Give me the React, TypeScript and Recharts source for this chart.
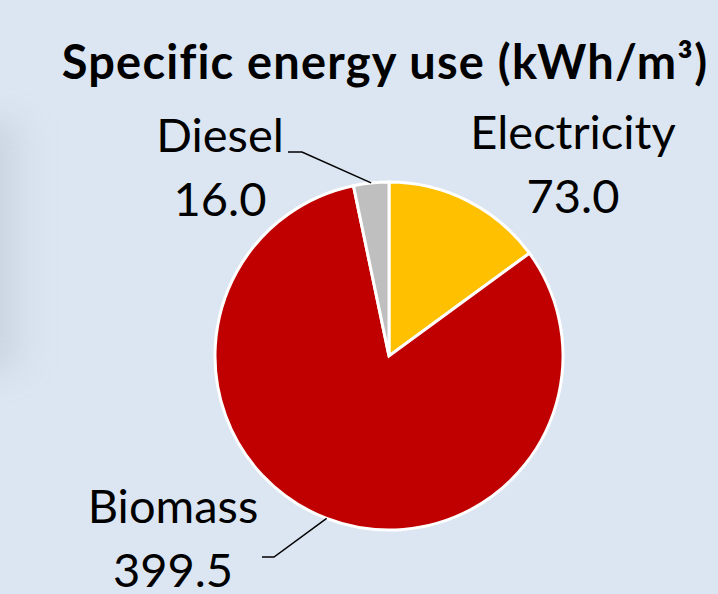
import React from 'react';
import { PieChart, Pie, Cell } from 'recharts';

const categories = ['Electricity', 'Biomass', 'Diesel'];
const values = [73.0, 399.5, 16.0];
const colors = ['#FFC000', '#C00000', '#BFBFBF'];
const title = 'Specific energy use (kWh/m³)';

const data = categories.map((name, i) => ({ name, value: values[i] }));

// label placement relative to pie centre (layout, not data)
const labelLayout: Record<string, { dx: number; dy: number; leader?: { ex: number; ey: number; hx: number; hy: number } }> = {
  Electricity: { dx: 184, dy: -207 },
  Diesel: { dx: -169, dy: -204, leader: { ex: -87, ey: -204, hx: -101, hy: -204 } },
  Biomass: { dx: -216, dy: 167, leader: { ex: -115, ey: 201, hx: -127, hy: 201 } },
};

const FONT = 'Lato, "Open Sans", sans-serif';
const RAD = Math.PI / 180;

const renderLabel = (props: any) => {
  const { cx, cy, midAngle, outerRadius, name, value } = props;
  const lay = labelLayout[name];
  if (!lay) return null;
  const px = cx + outerRadius * Math.cos(-midAngle * RAD);
  const py = cy + outerRadius * Math.sin(-midAngle * RAD);
  return (
    <g>
      {lay.leader && (
        <polyline
          points={`${px},${py} ${cx + lay.leader.ex},${cy + lay.leader.ey} ${cx + lay.leader.hx},${cy + lay.leader.hy}`}
          fill="none"
          stroke="#000"
          strokeWidth={1.5}
        />
      )}
      <text x={cx + lay.dx} y={cy + lay.dy} textAnchor="middle" fontFamily={FONT} fontSize={47} fill="#000">
        {name}
      </text>
      <text x={cx + lay.dx} y={cy + lay.dy + 64} textAnchor="middle" fontFamily={FONT} fontSize={47} fill="#000">
        {Number(value).toFixed(1)}
      </text>
    </g>
  );
};

export default function App() {
  return (
    <div
      style={{
        position: 'fixed',
        left: 0,
        top: 0,
        width: 718,
        height: 594,
        background: '#dce6f2',
        overflow: 'hidden',
      }}
    >
      <div
        style={{
          position: 'absolute',
          left: -25,
          top: 120,
          width: 60,
          height: 250,
          background: 'linear-gradient(to right, rgba(140,150,170,0.35), rgba(140,150,170,0))',
          filter: 'blur(16px)',
        }}
      />
      <div
        style={{
          position: 'absolute',
          left: 0,
          top: 33,
          width: 770,
          textAlign: 'center',
          fontFamily: FONT,
          fontWeight: 700,
          fontSize: 47,
          letterSpacing: 1.2,
          lineHeight: '56px',
          color: '#000',
          whiteSpace: 'nowrap',
        }}
      >
        {title}
      </div>
      <div style={{ position: 'absolute', left: 0, top: 0 }}>
        <PieChart width={718} height={594} margin={{ top: 0, right: 0, bottom: 0, left: 0 }}>
          <Pie
            data={data}
            dataKey="value"
            nameKey="name"
            cx={389}
            cy={356}
            outerRadius={174}
            startAngle={90}
            endAngle={-270}
            stroke="#ffffff"
            strokeWidth={3}
            label={renderLabel}
            labelLine={false}
            isAnimationActive={false}
          >
            {data.map((d, i) => (
              <Cell key={d.name} fill={colors[i]} />
            ))}
          </Pie>
        </PieChart>
      </div>
    </div>
  );
}
